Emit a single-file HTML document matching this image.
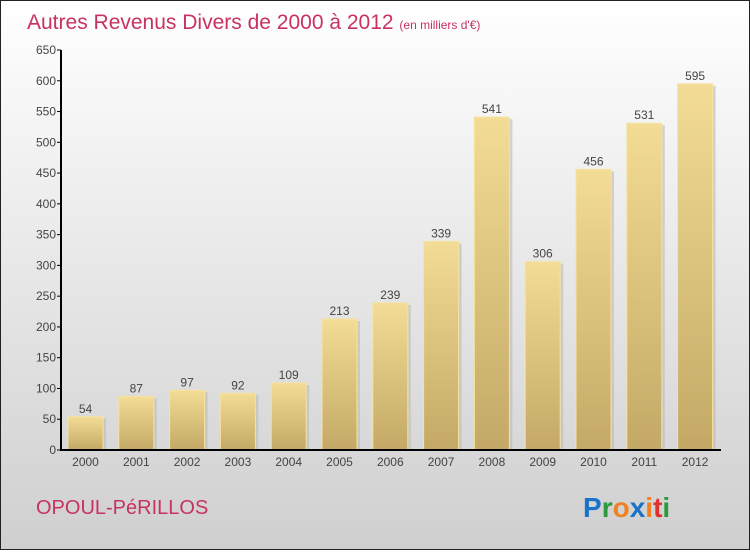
<!DOCTYPE html>
<html><head><meta charset="utf-8"><style>
body{margin:0}
#c{width:750px;height:550px;position:relative;font-family:"Liberation Sans",sans-serif}
</style></head><body>
<div id="c">
<svg width="750" height="550" xmlns="http://www.w3.org/2000/svg">
<defs>
<linearGradient id="bg" x1="0" y1="0" x2="0" y2="1"><stop offset="0" stop-color="#ffffff"/><stop offset="1" stop-color="#cfcfcf"/></linearGradient>
<linearGradient id="bar" x1="0" y1="0" x2="0" y2="1"><stop offset="0" stop-color="#f3dc96"/><stop offset="1" stop-color="#c3a965"/></linearGradient>
</defs>
<rect x="0.5" y="0.5" width="749" height="549" fill="url(#bg)" stroke="#222"/>
<text x="27" y="29" font-size="21" fill="#c8325f">Autres Revenus Divers de 2000 à 2012 <tspan font-size="12">(en milliers d'€)</tspan></text>
<g id="yaxis"></g>
<g id="bars"></g>
<line x1="61" y1="450" x2="721" y2="450" stroke="#000" stroke-width="2"/>
<line x1="61" y1="50" x2="61" y2="451" stroke="#000" stroke-width="2"/>
<text x="36" y="514" font-size="20" fill="#c8325f">OPOUL-PéRILLOS</text>
<g font-size="28" font-weight="bold" font-family="'Liberation Sans',sans-serif">
<text x="583" y="517"><tspan fill="#1a73c8">P</tspan><tspan fill="#2a9a3a">r</tspan><tspan fill="#f08020">o</tspan><tspan fill="#1a73c8">x</tspan><tspan fill="#f08020">i</tspan><tspan fill="#e03030">t</tspan><tspan fill="#2a9a3a">i</tspan></text>
</g>
</svg>
</div>
<script>
const years=["2000","2001","2002","2003","2004","2005","2006","2007","2008","2009","2010","2011","2012"];
const values=[54,87,97,92,109,213,239,339,541,306,456,531,595];
const yTicks=[0,50,100,150,200,250,300,350,400,450,500,550,600,650];
const NS="http://www.w3.org/2000/svg";
const y=v=>450-v*400/650;
const xc=i=>85.5+50.8*i;
const ya=document.getElementById('yaxis');
yTicks.forEach(t=>{
 const l=document.createElementNS(NS,'line');
 l.setAttribute('x1',57);l.setAttribute('x2',61);l.setAttribute('y1',y(t));l.setAttribute('y2',y(t));l.setAttribute('stroke','#000');
 
 
 ya.appendChild(l);
 const tx=document.createElementNS(NS,'text');
 tx.setAttribute('x',56);tx.setAttribute('y',y(t)+4);tx.setAttribute('text-anchor','end');tx.setAttribute('font-size','12');tx.setAttribute('fill','#444');
 tx.textContent=t;
 
 
 ya.appendChild(tx);
});
const bg=document.getElementById('bars');
years.forEach((yr,i)=>{
 const v=values[i],x=xc(i)-17.5;
 const sh=document.createElementNS(NS,'rect');
 sh.setAttribute('x',x+3);sh.setAttribute('y',y(v)+2);sh.setAttribute('width',35);sh.setAttribute('height',450-y(v)-2);sh.setAttribute('fill','#bbb');sh.setAttribute('opacity','0.6');
 
 
 bg.appendChild(sh);
 const r=document.createElementNS(NS,'rect');
 r.setAttribute('x',x);r.setAttribute('y',y(v));r.setAttribute('width',35);r.setAttribute('height',450-y(v));r.setAttribute('fill','url(#bar)');r.setAttribute('stroke','#f5e3a0');
 
 
 bg.appendChild(r);
 const lb=document.createElementNS(NS,'text');
 lb.setAttribute('x',xc(i));lb.setAttribute('y',y(v)-4);lb.setAttribute('text-anchor','middle');lb.setAttribute('font-size','12');lb.setAttribute('fill','#444');
 lb.textContent=v;
 
 
 bg.appendChild(lb);
 const xl=document.createElementNS(NS,'text');
 xl.setAttribute('x',xc(i));xl.setAttribute('y',466);xl.setAttribute('text-anchor','middle');xl.setAttribute('font-size','12');xl.setAttribute('fill','#444');
 xl.textContent=yr;
 
 
 bg.appendChild(xl);
});
</script>
</body></html>
